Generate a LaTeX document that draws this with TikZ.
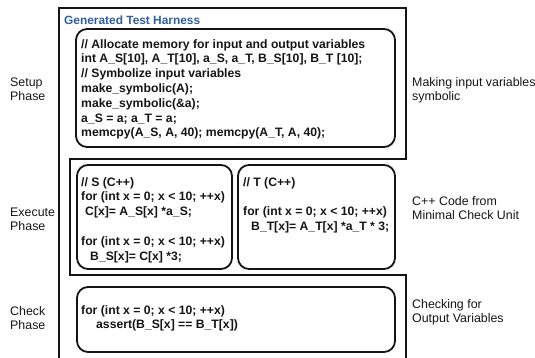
\documentclass[tikz,border=0pt]{standalone}
\usepackage{fontspec}
\setmainfont{Liberation Sans}
\usetikzlibrary{positioning}

\definecolor{harnessBlue}{HTML}{2F5E9E}
\definecolor{inkDark}{HTML}{151515}

\tikzset{
    % Frames and code boxes
    phaseFrame/.style={draw=inkDark, line width=1.3pt},
    codeBox/.style={draw=inkDark, line width=1.8pt, rounded corners=11pt},
    % Text
    codeText/.style={anchor=north west, inner sep=0pt, align=left,
        font=\fontsize{12.2}{14.8}\selectfont\bfseries, text=inkDark},
    sideLabel/.style={anchor=west, inner sep=0pt, align=left,
        font=\fontsize{12.4}{14}\selectfont, text=inkDark},
    harnessTitle/.style={anchor=west, inner sep=0pt,
        font=\fontsize{11.9}{14}\selectfont\bfseries, text=harnessBlue}
}

\begin{document}
\begin{tikzpicture}[x=1pt, y=-1pt]
    \useasboundingbox (0,0) rectangle (535,358);

    % Harness frame (setup part, execute part, check part)
    \draw[phaseFrame] (59,360) -- (59,8) -- (406,8) -- (406,159)
        -- (70,159) -- (70,275) -- (406,275) -- (406,360);
    \node[harnessTitle] (title) at (64,20) {Generated Test Harness};

    % Code boxes
    \draw[codeBox] (76,29) rectangle (395,147);
    \draw[codeBox] (77,165) rectangle (232,269);
    \draw[codeBox] (238,165) rectangle (395,269);
    \draw[codeBox] (77,287) rectangle (395,352);

    % Setup code
    \node[codeText] (setupCode) at (81,39) {%
        // Allocate memory for input and output variables\\
        int A\_S[10], A\_T[10], a\_S, a\_T, B\_S[10], B\_T [10];\\
        // Symbolize input variables\\
        make\_symbolic(A);\\
        make\_symbolic(\&a);\\
        a\_S = a; a\_T = a;\\
        memcpy(A\_S, A, 40); memcpy(A\_T, A, 40);};

    % Execute code, S and T
    \node[codeText] (sCode) at (81,177) {%
        // S (C++)\\
        for (int x = 0; x < 10; ++x)\\
        \hspace*{4pt}C[x]= A\_S[x] *a\_S;\\
        \mbox{}\\
        for (int x = 0; x < 10; ++x)\\
        \hspace*{9pt}B\_S[x]= C[x] *3;};
    \node[codeText] (tCode) at (243,177) {%
        // T (C++)\\
        \mbox{}\\
        for (int x = 0; x < 10; ++x)\\
        \hspace*{8pt}B\_T[x]= A\_T[x] *a\_T * 3;};

    % Check code
    \node[codeText] (checkCode) at (81,305) {%
        for (int x = 0; x < 10; ++x)\\
        \hspace*{15pt}assert(B\_S[x] == B\_T[x])};

    % Phase names
    \node[sideLabel] (setupPhase) at (10,89) {Setup\\Phase};
    \node[sideLabel] (executePhase) at (10,219) {Execute\\Phase};
    \node[sideLabel] (checkPhase) at (10,318.5) {Check\\Phase};

    % Notes on the right
    \node[sideLabel] (setupNote) at (412,90) {Making input variables\\symbolic};
    \node[sideLabel] (executeNote) at (412,208) {C++ Code from\\Minimal Check Unit};
    \node[sideLabel] (checkNote) at (412,312.5) {Checking for\\Output Variables};
\end{tikzpicture}
\end{document}
